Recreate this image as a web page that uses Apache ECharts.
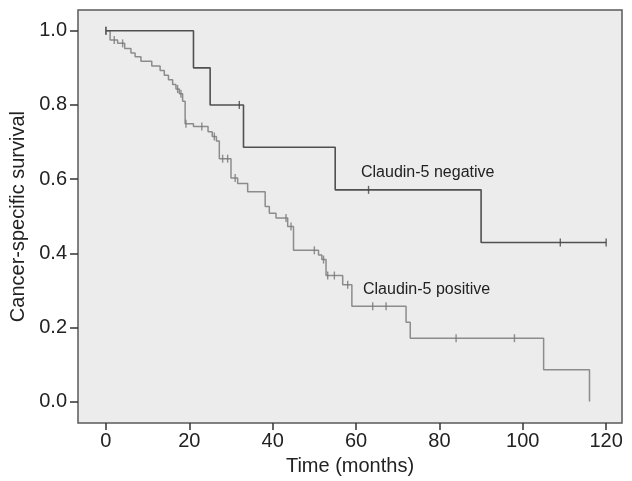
<!DOCTYPE html>
<html><head><meta charset="utf-8">
<script src="https://cdn.jsdelivr.net/npm/echarts@6/dist/echarts.min.js"></script>
<style>html,body{margin:0;padding:0;background:#fff}#c{width:632px;height:481px}</style>
</head><body><div id="c"></div>
<script>
// Claudin-5 negative (Kaplan-Meier steps: time, survival after event)
const negTimes = [0, 21, 25, 33, 55, 90, 120];
const negSurv  = [1.0, 0.9, 0.8, 0.686, 0.571, 0.429, 0.429];
const negCensor = [0, 32, 63, 109, 120];

// Claudin-5 positive
const posTimes = [0, 1.0, 2.8, 4.5, 6, 7, 8.4, 11, 13, 14, 15, 16, 16.8, 17.6, 18.4, 19, 21, 24.5, 25.5, 26.5, 27.2, 30, 31.6, 34, 38.2, 39.2, 40.8, 43.6, 45, 51, 51.8, 52.8, 56.8, 59, 72, 73, 105, 116];
const posSurv  = [1.0, 0.975, 0.966, 0.952, 0.94, 0.93, 0.918, 0.905, 0.893, 0.88, 0.868, 0.855, 0.843, 0.83, 0.81, 0.749, 0.742, 0.728, 0.715, 0.703, 0.655, 0.603, 0.588, 0.566, 0.526, 0.508, 0.495, 0.472, 0.408, 0.395, 0.383, 0.34, 0.315, 0.257, 0.214, 0.171, 0.086, 0];
const posCensor = [0, 2, 4, 17.2, 18, 19.2, 23, 26, 28, 29.2, 31, 43.2, 44.4, 50, 52.2, 53.2, 54.8, 58, 64, 67.2, 84, 98];

const xTicks = [0, 20, 40, 60, 80, 100, 120];
const yTicks = [0, 0.2, 0.4, 0.6, 0.8, 1.0];
const labelNeg = 'Claudin-5 negative';
const labelPos = 'Claudin-5 positive';

function survAt(times, surv, t) {
  let s = surv[0];
  for (let i = 0; i < times.length; i++) { if (times[i] <= t) s = surv[i]; }
  return s;
}
const negLine = negTimes.map((t, i) => [t, negSurv[i]]);
const posLine = posTimes.map((t, i) => [t, posSurv[i]]);
const negMarks = negCensor.map(t => [t, survAt(negTimes, negSurv, t)]);
const posMarks = posCensor.map(t => [t, survAt(posTimes, posSurv, t)]);

const FONT = '"Liberation Sans", Arial, sans-serif';
const chart = echarts.init(document.getElementById('c'), null, {renderer: 'canvas'});
chart.setOption({
  animation: false,
  backgroundColor: '#ffffff',
  grid: {left: 78, top: 10, right: 10, bottom: 55, show: true, backgroundColor: '#ececec', borderColor: '#5a5a5a', borderWidth: 1.5},
  xAxis: {
    type: 'value', min: -6.7, max: 123.8,
    name: 'Time (months)', nameLocation: 'middle', nameGap: 30,
    nameTextStyle: {fontFamily: FONT, fontSize: 20, color: '#222'},
    axisLine: {show: false, onZero: false},
    axisTick: {show: true, length: 7, lineStyle: {color: '#333', width: 1.5}, customValues: xTicks},
    axisLabel: {fontFamily: FONT, fontSize: 20, color: '#222', margin: 8, customValues: xTicks, formatter: v => String(v)},
    splitLine: {show: false}
  },
  yAxis: {
    type: 'value', min: -0.058, max: 1.056,
    name: 'Cancer-specific survival', nameLocation: 'middle', nameGap: 43,
    nameTextStyle: {fontFamily: FONT, fontSize: 20, color: '#222'},
    axisLine: {show: false, onZero: false},
    axisTick: {show: true, length: 8, lineStyle: {color: '#333', width: 1.5}, customValues: yTicks},
    axisLabel: {fontFamily: FONT, fontSize: 20, color: '#222', margin: 11, customValues: yTicks, formatter: v => v.toFixed(1)},
    splitLine: {show: false}
  },
  series: [
    {type: 'line', step: 'end', data: posLine, symbol: 'none', lineStyle: {color: '#8c8c8c', width: 1.5}, z: 2},
    {type: 'line', step: 'end', data: negLine, symbol: 'none', lineStyle: {color: '#505050', width: 1.6}, z: 3},
    {type: 'scatter', data: posMarks, symbol: 'rect', symbolSize: [1.4, 8], itemStyle: {color: '#777'}, z: 4},
    {type: 'scatter', data: negMarks, symbol: 'rect', symbolSize: [1.4, 8], itemStyle: {color: '#444'}, z: 4}
  ],
  graphic: [
    {type: 'text', x: 361, y: 173, style: {text: labelNeg, font: '16px ' + FONT, fill: '#222', verticalAlign: 'middle'}},
    {type: 'text', x: 363, y: 290, style: {text: labelPos, font: '16px ' + FONT, fill: '#222', verticalAlign: 'middle'}}
  ]
});
</script>
</body></html>
